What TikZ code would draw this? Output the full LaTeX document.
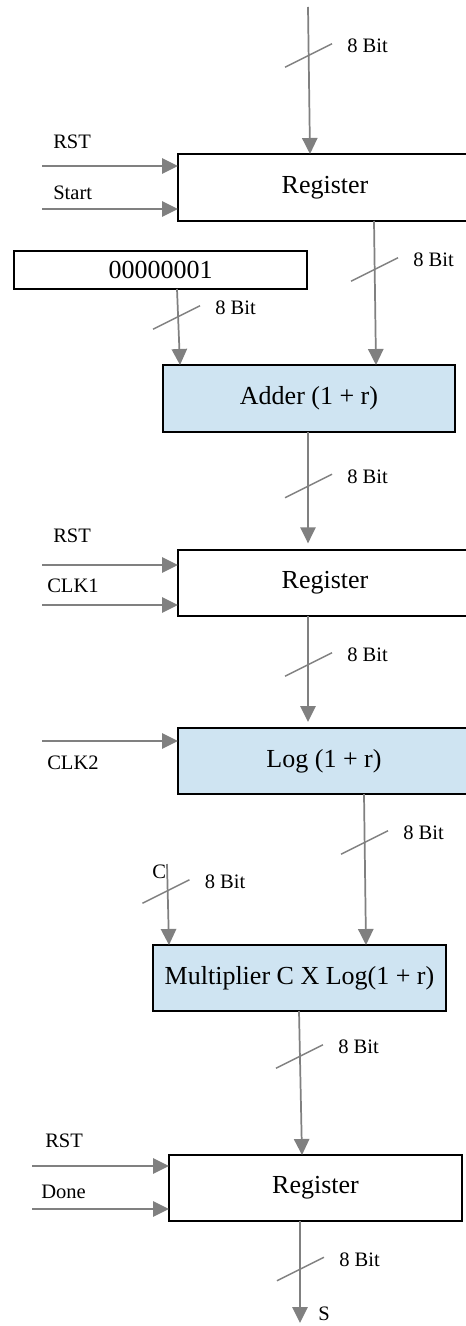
\documentclass[tikz,border=0pt]{standalone}
\usepackage{fontspec}
\setmainfont{Liberation Serif}
\usetikzlibrary{arrows.meta}

\tikzset{
  wire/.style={draw=wiregray, line width=1.3pt,
    -{Triangle[width=11.5pt,length=12pt]}},
  slash/.style={draw=wiregray, line width=1.1pt},
  block/.style={draw=black, line width=1.5pt, rectangle, inner sep=0pt,
    outer sep=0pt, font=\fontsize{19.5}{22}\selectfont},
  regbox/.style={block, fill=white},
  opbox/.style={block, fill=opblue},
  lbl/.style={inner sep=0pt, anchor=west, font=\fontsize{15.4}{18}\selectfont},
}
\definecolor{wiregray}{RGB}{128,128,128}
\definecolor{opblue}{RGB}{207,228,242}

% bus-width mark: slash across a wire at (#1,#2), labelled node #3
\newcommand\busmark[3]{%
  \draw[slash] (#1-23.5,#2+11.75) -- (#1+23.5,#2-11.75);
  \node[lbl] (#3) at (#1+38.5,#2-9.5) {8 Bit};}

\begin{document}
\begin{tikzpicture}[x=0.75pt,y=-0.75pt]
\useasboundingbox (0,0) rectangle (466,1326);
\clip (0,0) rectangle (466,1326);

% blocks
\node[regbox, minimum width=294*0.75pt, minimum height=67*0.75pt] (reg1) at (325,187.5) {Register};
\node[regbox, minimum width=293*0.75pt, minimum height=38*0.75pt] (one) at (160.5,270) {00000001};
\node[opbox, minimum width=292*0.75pt, minimum height=67*0.75pt] (adder) at (309,398.5) {Adder (1 + r)};
\node[regbox, minimum width=294*0.75pt, minimum height=66*0.75pt] (reg2) at (325,583) {Register};
\node[opbox, minimum width=292*0.75pt, minimum height=66*0.75pt] (log) at (324,761) {Log (1 + r)};
\node[opbox, minimum width=293*0.75pt, minimum height=66*0.75pt] (mult) at (299.5,978) {Multiplier C X Log(1 + r)};
\node[regbox, minimum width=293*0.75pt, minimum height=66*0.75pt] (reg3) at (315.5,1188) {Register};

% control signal labels
\node[lbl] (lrst1) at (53,142) {RST};
\node[lbl] (lstart) at (53,193) {Start};
\node[lbl] (lrst2) at (53,536) {RST};
\node[lbl] (lclk1) at (47,586) {CLK1};
\node[lbl] (lclk2) at (47,763) {CLK2};
\node[lbl] (lc) at (152,872) {C};
\node[lbl] (lrst3) at (45,1141) {RST};
\node[lbl] (ldone) at (41,1192) {Done};
\node[lbl] (ls) at (318,1314) {S};

% free wire ends
\coordinate (din) at (308,7);
\coordinate (rst1) at (42,166);
\coordinate (start) at (42,209);
\coordinate (rst2) at (42,565);
\coordinate (clk1) at (42,605);
\coordinate (clk2) at (42,741);
\coordinate (cin) at (167,864);
\coordinate (rst3) at (32,1166);
\coordinate (done) at (32,1209);
\coordinate (sout) at (300,1323);

% control wires
\draw[wire] (rst1) -- (rst1 -| reg1.west);
\draw[wire] (start) -- (start -| reg1.west);
\draw[wire] (rst2) -- (rst2 -| reg2.west);
\draw[wire] (clk1) -- (clk1 -| reg2.west);
\draw[wire] (clk2) -- (clk2 -| log.west);
\draw[wire] (rst3) -- (rst3 -| reg3.west);
\draw[wire] (done) -- (done -| reg3.west);

% data path
\draw[wire] (din) -- (310,0 |- reg1.north);
\draw[wire] (374,0 |- reg1.south) -- (376,0 |- adder.north);
\draw[wire] (177,0 |- one.south) -- (180,0 |- adder.north);
\draw[wire, shorten >=5pt] (308,0 |- adder.south) -- (308,0 |- reg2.north);
\draw[wire, shorten >=4.5pt] (308,0 |- reg2.south) -- (308,0 |- log.north);
\draw[wire] (364,0 |- log.south) -- (366,0 |- mult.north);
\draw[wire] (cin) -- (169,0 |- mult.north);
\draw[wire] (299,0 |- mult.south) -- (302,0 |- reg3.north);
\draw[wire] (300,0 |- reg3.south) -- (sout);

% bus widths
\busmark{308.5}{55.5}{b1}
\busmark{176.5}{317.5}{b2}
\busmark{374.5}{269.5}{b3}
\busmark{308.5}{486}{b4}
\busmark{308.5}{664.5}{b5}
\busmark{364.5}{842.5}{b6}
\busmark{166}{891.5}{b7}
\busmark{299.5}{1056.5}{b8}
\busmark{300.5}{1269}{b9}
\end{tikzpicture}
\end{document}
